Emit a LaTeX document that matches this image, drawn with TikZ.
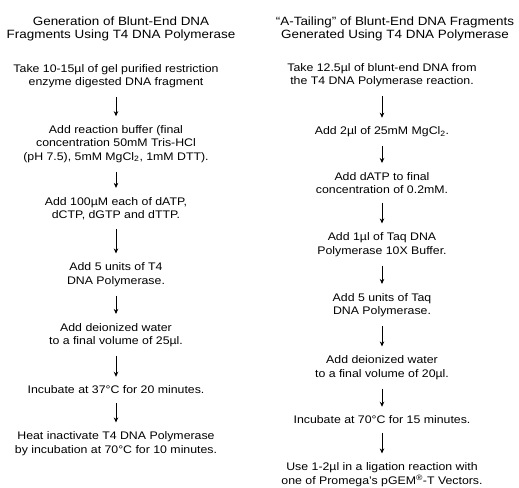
\documentclass[tikz,border=0pt]{standalone}
\usepackage{fontspec}
\setmainfont{Liberation Sans}[FakeStretch=1.12]
\usetikzlibrary{arrows.meta}
\tikzset{
  body/.style={align=center, inner sep=0pt, font=\fontsize{11}{13.5}\selectfont},
  ttl/.style={align=center, inner sep=0pt, font=\fontsize{12}{13}\selectfont},
  arr/.style={line width=0.8pt, -{Stealth[length=5pt,width=4.5pt]}, shorten <=9pt, shorten >=9pt}
}
\begin{document}
\begin{tikzpicture}[x=1pt,y=-1pt]
\useasboundingbox (0,0) rectangle (519,487);
% left column
\node[ttl] (T1) at (121,29) {Generation of Blunt-End DNA\\Fragments Using T4 DNA Polymerase};
\node[body] (L1) at (116,76) {Take 10-15µl of gel purified restriction\\enzyme digested DNA fragment};
\node[body] (L2) at (116,144) {Add reaction buffer (final\\concentration 50mM Tris-HCl\\(pH 7.5), 5mM MgCl\textsubscript{2}, 1mM DTT).};
\node[body] (L3) at (116,208.5) {Add 100µM each of dATP,\\dCTP, dGTP and dTTP.};
\node[body] (L4) at (116,274.5) {Add 5 units of T4\\DNA Polymerase.};
\node[body] (L5) at (116,335) {Add deionized water\\to a final volume of 25µl.};
\node[body] (L6) at (116,390) {Incubate at 37°C for 20 minutes.};
\node[body] (L7) at (116,443.5) {Heat inactivate T4 DNA Polymerase\\by incubation at 70°C for 10 minutes.};
\draw[arr] (L1) -- (L2);
\draw[arr] (L2) -- (L3);
\draw[arr] (L3) -- (L4);
\draw[arr] (L4) -- (L5);
\draw[arr] (L5) -- (L6);
\draw[arr] (L6) -- (L7);
% right column
\node[ttl] (T2) at (395,29) {“A-Tailing” of Blunt-End DNA Fragments\\Generated Using T4 DNA Polymerase};
\node[body] (R1) at (382,75) {Take 12.5µl of blunt-end DNA from\\the T4 DNA Polymerase reaction.};
\node[body] (R2) at (382,132) {Add 2µl of 25mM MgCl\textsubscript{2}.};
\node[body] (R3) at (382,183) {Add dATP to final\\concentration of 0.2mM.};
\node[body] (R4) at (382,244.5) {Add 1µl of Taq DNA\\Polymerase 10X Buffer.};
\node[body] (R5) at (382,305) {Add 5 units of Taq\\DNA Polymerase.};
\node[body] (R6) at (382,367.5) {Add deionized water\\to a final volume of 20µl.};
\node[body] (R7) at (382,420) {Incubate at 70°C for 15 minutes.};
\node[body] (R8) at (382,474.5) {Use 1-2µl in a ligation reaction with\\one of Promega's pGEM\textsuperscript{®}-T Vectors.};
\draw[arr] (R1) -- (R2);
\draw[arr] (R2) -- (R3);
\draw[arr] (R3) -- (R4);
\draw[arr] (R4) -- (R5);
\draw[arr] (R5) -- (R6);
\draw[arr] (R6) -- (R7);
\draw[arr] (R7) -- (R8);
\end{tikzpicture}
\end{document}
